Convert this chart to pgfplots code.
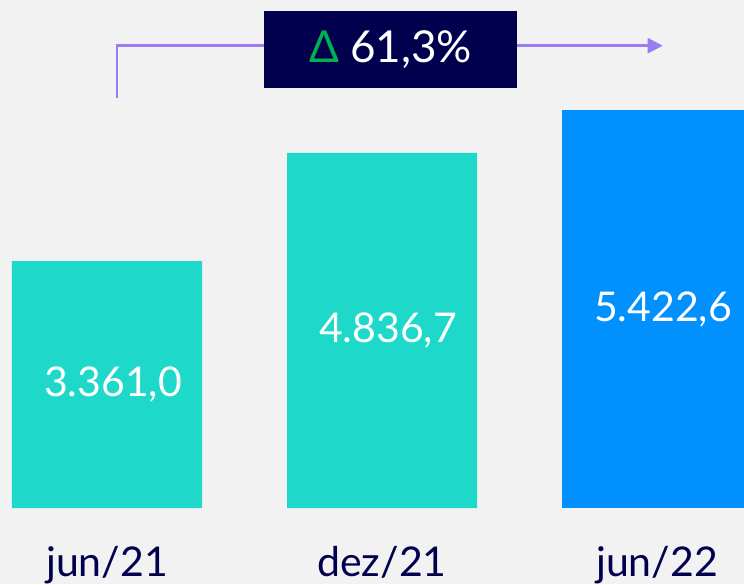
\documentclass[border=0pt]{standalone}
\usepackage{pgfplots}
\pgfplotsset{compat=1.18}
\usepackage{fontspec}
\setmainfont{Lato}
\usetikzlibrary{arrows.meta}

\definecolor{bg}{HTML}{F2F2F2}
\definecolor{tealbar}{HTML}{1ED9CA}
\definecolor{bluebar}{HTML}{0091FF}
\definecolor{navy}{HTML}{00004E}
\definecolor{arrowpurple}{HTML}{9B7CF4}
\definecolor{deltagreen}{HTML}{00B14F}

\begin{document}
\begin{tikzpicture}
\useasboundingbox (0,0) rectangle (744pt,584pt);
\clip (0,0) rectangle (744pt,584pt);
\fill[bg] (0,0) rectangle (744pt,584pt);

\begin{axis}[
    at={(0pt,76pt)}, anchor=south west,
    scale only axis, width=744pt, height=508pt,
    xmin=-0.38909, xmax=2.31636,
    ymin=0, ymax=6919,
    ybar, bar width=190pt, bar shift=0pt,
    axis line style={draw=none}, tick style={draw=none},
    ytick=\empty,
    xtick={0,1,2},
    xticklabels={jun/21,dez/21,jun/22},
    xticklabel style={anchor=base, yshift=-64pt, inner sep=0pt,
        text=navy, font=\fontsize{41}{48}\selectfont},
    clip mode=individual,
    nodes near coords,
    visualization depends on={rawy \as \ry},
    every node near coord/.append style={anchor=center, xshift=6pt,
        yshift={-0.036711*\ry*1pt}, text=white,
        font=\fontsize{41}{48}\selectfont},
    /pgf/number format/.cd, use comma, 1000 sep={.}, fixed,
        fixed zerofill, precision=1, assume math mode=true,
]
\addplot[draw=none, fill=tealbar] coordinates {(0,3361.0) (1,4836.7)};
\addplot[draw=none, fill=bluebar] coordinates {(2,5422.6)};
\end{axis}

% variation arrow with box
\draw[arrowpurple, line width=2.7pt, -{Triangle[length=15pt,width=15pt]}]
    (117pt,486pt) -- (117pt,538.3pt) -- (662.7pt,538.3pt);
\node[fill=navy, minimum width=253pt, minimum height=77pt, inner sep=0pt,
      text=white, font=\fontsize{44}{50}\selectfont]
    at (390.5pt,534.5pt) {\textcolor{deltagreen}{Δ} 61,3\%};
\end{tikzpicture}
\end{document}
